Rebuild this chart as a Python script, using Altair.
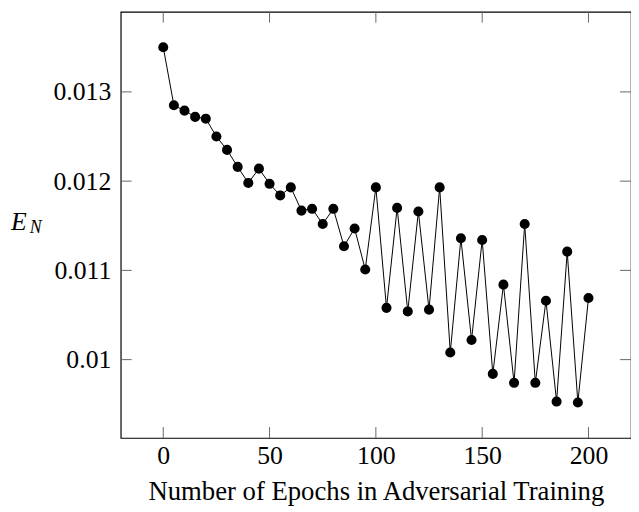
import altair as alt
import pandas as pd

epochs = [0, 5, 10, 15, 20, 25, 30, 35, 40, 45, 50, 55, 60, 65, 70, 75, 80, 85, 90, 95,
          100, 105, 110, 115, 120, 125, 130, 135, 140, 145, 150, 155, 160, 165, 170, 175,
          180, 185, 190, 195, 200]
errors = [0.01350, 0.01285, 0.01279, 0.01272, 0.01270, 0.01250, 0.01235, 0.01216,
          0.01198, 0.01214, 0.01197, 0.01184, 0.01193, 0.01167, 0.01169, 0.01152,
          0.01169, 0.01127, 0.01147, 0.01101, 0.01193, 0.01058, 0.01170, 0.01054,
          0.01166, 0.01056, 0.01193, 0.01008, 0.01136, 0.01022, 0.01134, 0.00984,
          0.01084, 0.00974, 0.01152, 0.00974, 0.01066, 0.00953, 0.01121, 0.00952,
          0.01069]
x_ticks = [0, 50, 100, 150, 200]
y_ticks = [0.01, 0.011, 0.012, 0.013]
x_title = "Number of Epochs in Adversarial Training"

W, H = 516, 431
FONT = "'Liberation Serif', 'Times New Roman', Times, serif"

df = pd.DataFrame({"epoch": epochs, "err": errors})
xt = pd.DataFrame({"v": x_ticks})
yt = pd.DataFrame({"v": y_ticks})

xscale = alt.Scale(domain=[-20, 220], nice=False, zero=False)
yscale = alt.Scale(domain=[0.009122, 0.013898], nice=False, zero=False)

xaxis = alt.Axis(values=x_ticks, title=x_title, labelFont=FONT, labelFontSize=26,
                 labelColor="black", labelBaseline="alphabetic", labelPadding=26,
                 ticks=False, tickSize=0, domain=False, grid=False,
                 titleFont=FONT, titleFontSize=27, titleFontWeight="normal",
                 titleColor="black", titleBaseline="alphabetic", titleY=62)
yaxis = alt.Axis(values=y_ticks, title="", format="~g", labelFont=FONT, labelFontSize=26,
                 labelColor="black", labelPadding=10, ticks=False, tickSize=0,
                 domain=False, grid=False)

X = alt.X("epoch:Q", scale=xscale, axis=xaxis)
Y = alt.Y("err:Q", scale=yscale, axis=yaxis)

line = alt.Chart(df).mark_line(color="black", strokeWidth=1).encode(x=X, y=Y)
pts = alt.Chart(df).mark_circle(color="black", opacity=1, size=104).encode(x=X, y=Y)

XT = alt.X("v:Q", scale=xscale, axis=xaxis)
YT = alt.Y("v:Q", scale=yscale, axis=yaxis)
tick_style = dict(color="#666666", strokeWidth=1)
xt_bottom = alt.Chart(xt).mark_rule(**tick_style).encode(x=XT, y=alt.value(H - 11), y2=alt.value(H))
xt_top = alt.Chart(xt).mark_rule(**tick_style).encode(x=XT, y=alt.value(0), y2=alt.value(11))
yt_left = alt.Chart(yt).mark_rule(**tick_style).encode(y=YT, x=alt.value(0), x2=alt.value(11))
yt_right = alt.Chart(yt).mark_rule(**tick_style).encode(y=YT, x=alt.value(W - 11), x2=alt.value(W))

e_lbl = alt.Chart(pd.DataFrame({"t": ["E"]})).mark_text(
    font=FONT, fontSize=26, fontStyle="italic", align="left", baseline="alphabetic",
    color="black").encode(x=alt.value(-111), y=alt.value(221), text="t:N")
n_lbl = alt.Chart(pd.DataFrame({"t": ["N"]})).mark_text(
    font=FONT, fontSize=18, fontStyle="italic", align="left", baseline="alphabetic",
    color="black").encode(x=alt.value(-92), y=alt.value(224), text="t:N")

chart = alt.layer(xt_bottom, xt_top, yt_left, yt_right, line, pts, e_lbl, n_lbl).properties(
    width=W, height=H,
    autosize=alt.AutoSizeParams(type="none"),
    padding={"left": 114, "top": 1, "right": 0, "bottom": 68},
    background="white",
).configure_view(stroke="black", strokeWidth=1.2)

chart.save("out.html", embed_options={"renderer": "svg", "actions": False})
